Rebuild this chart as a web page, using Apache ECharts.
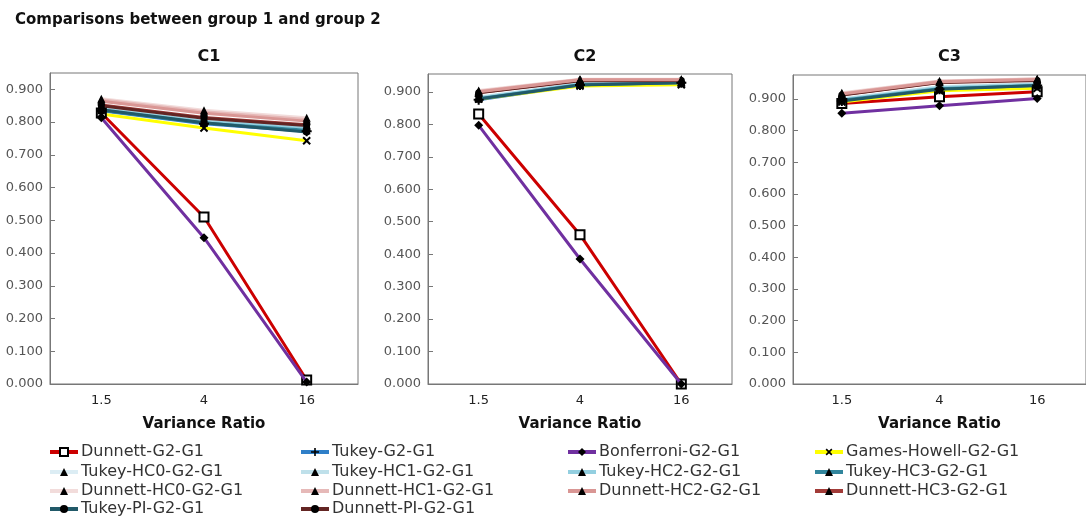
<!DOCTYPE html>
<html>
<head>
<meta charset="utf-8">
<script src="https://cdn.jsdelivr.net/npm/echarts@6/dist/echarts.min.js"></script>
<style>
  html, body { margin: 0; padding: 0; background: #fff; }
  #chart { width: 1086px; height: 522px; }
</style>
</head>
<body>
<div id="chart"></div>
<script>
// Variance ratio categories shared by all three panels
const varianceRatios = ['1.5', '4', '16'];
const panelNames = ['C1', 'C2', 'C3'];
const yTickValues = [0, 0.1, 0.2, 0.3, 0.4, 0.5, 0.6, 0.7, 0.8, 0.9];

// Each array holds one method's values for panels C1, C2, C3 (ratios 1.5, 4, 16)
const dunnettG2G1     = [[0.828, 0.510, 0.012], [0.832, 0.460, 0.000], [0.885, 0.906, 0.922]];
const tukeyG2G1       = [[0.835, 0.795, 0.772], [0.876, 0.921, 0.928], [0.893, 0.930, 0.942]];
const bonferroniG2G1  = [[0.813, 0.447, 0.006], [0.797, 0.385, 0.000], [0.854, 0.878, 0.901]];
const gamesHowellG2G1 = [[0.825, 0.782, 0.743], [0.878, 0.918, 0.922], [0.890, 0.925, 0.933]];
const tukeyHC0G2G1    = [[0.845, 0.806, 0.790], [0.884, 0.926, 0.931], [0.900, 0.938, 0.948]];
const tukeyHC1G2G1    = [[0.843, 0.804, 0.787], [0.883, 0.925, 0.930], [0.899, 0.937, 0.947]];
const tukeyHC2G2G1    = [[0.840, 0.802, 0.784], [0.881, 0.924, 0.929], [0.897, 0.935, 0.945]];
const tukeyHC3G2G1    = [[0.836, 0.797, 0.775], [0.879, 0.922, 0.928], [0.895, 0.932, 0.942]];
const dunnettHC0G2G1  = [[0.871, 0.836, 0.813], [0.904, 0.939, 0.939], [0.919, 0.956, 0.963]];
const dunnettHC1G2G1  = [[0.868, 0.832, 0.808], [0.902, 0.938, 0.938], [0.917, 0.955, 0.962]];
const dunnettHC2G2G1  = [[0.864, 0.827, 0.803], [0.900, 0.937, 0.937], [0.915, 0.954, 0.961]];
const dunnettHC3G2G1  = [[0.852, 0.814, 0.792], [0.898, 0.935, 0.936], [0.913, 0.952, 0.959]];
const tukeyPIG2G1     = [[0.838, 0.798, 0.770], [0.878, 0.921, 0.928], [0.893, 0.930, 0.942]];
const dunnettPIG2G1   = [[0.850, 0.812, 0.790], [0.897, 0.934, 0.935], [0.912, 0.951, 0.958]];

const PLUS = 'path://M4,0L6,0L6,4L10,4L10,6L6,6L6,10L4,10L4,6L0,6L0,4L4,4Z';

// Line colour, marker and stacking level for each method, in legend order
const methods = [
  { name: 'Dunnett-G2-G1',      data: dunnettG2G1,     color: '#cc0000', symbol: 'rect',     size: 9,  open: true, z: 2 },
  { name: 'Tukey-G2-G1',        data: tukeyG2G1,       color: '#2f7fc8', symbol: PLUS,       size: 10, z: 2 },
  { name: 'Bonferroni-G2-G1',   data: bonferroniG2G1,  color: '#7030a0', symbol: 'diamond',  size: 9,  z: 4 },
  { name: 'Games-Howell-G2-G1', data: gamesHowellG2G1, color: '#ffff00', symbol: PLUS,       size: 10, rotate: 45, z: 2 },
  { name: 'Tukey-HC0-G2-G1',    data: tukeyHC0G2G1,    color: '#dcedf4', symbol: 'triangle', size: 8,  z: 2 },
  { name: 'Tukey-HC1-G2-G1',    data: tukeyHC1G2G1,    color: '#bfe0ea', symbol: 'triangle', size: 8,  z: 2 },
  { name: 'Tukey-HC2-G2-G1',    data: tukeyHC2G2G1,    color: '#93cfe0', symbol: 'triangle', size: 8,  z: 2 },
  { name: 'Tukey-HC3-G2-G1',    data: tukeyHC3G2G1,    color: '#31859c', symbol: 'triangle', size: 8,  z: 2 },
  { name: 'Dunnett-HC0-G2-G1',  data: dunnettHC0G2G1,  color: '#f2dcdb', symbol: 'triangle', size: 8,  z: 3 },
  { name: 'Dunnett-HC1-G2-G1',  data: dunnettHC1G2G1,  color: '#e6b9b8', symbol: 'triangle', size: 8,  z: 3 },
  { name: 'Dunnett-HC2-G2-G1',  data: dunnettHC2G2G1,  color: '#d99694', symbol: 'triangle', size: 8,  z: 3 },
  { name: 'Dunnett-HC3-G2-G1',  data: dunnettHC3G2G1,  color: '#a23b38', symbol: 'triangle', size: 8,  z: 2 },
  { name: 'Tukey-PI-G2-G1',     data: tukeyPIG2G1,     color: '#215968', symbol: 'circle',   size: 7,  z: 2 },
  { name: 'Dunnett-PI-G2-G1',   data: dunnettPIG2G1,   color: '#632523', symbol: 'circle',   size: 7,  z: 2 }
];

const FONT = '"DejaVu Sans", "Liberation Sans", sans-serif';

// Plot rectangles of the three panels
const grids = [
  { left: 50,  top: 73, width: 308, height: 311 },
  { left: 428, top: 74, width: 304, height: 310 },
  { left: 793, top: 75, width: 303, height: 309 }
];
const yMax = [0.95, 0.955, 0.975];

// Legend grid: four columns, four rows
const legendCols = [48, 299, 566, 813];
const legendRows = [453, 473, 492, 510];

const option = {
  animation: false,
  backgroundColor: '#ffffff',
  textStyle: { fontFamily: FONT },
  title: [
    { text: 'Comparisons between group 1 and group 2', left: 10, top: 8,
      textStyle: { fontFamily: FONT, fontSize: 15, fontWeight: 'bold', color: '#111' } }
  ].concat(panelNames.map((p, i) => ({
    text: p, left: grids[i].left + grids[i].width / 2, top: 44, textAlign: 'center',
    textStyle: { fontFamily: FONT, fontSize: 16, fontWeight: 'bold', color: '#111' }
  }))),
  grid: grids.map(g => Object.assign({ show: true, borderColor: '#777', borderWidth: 1, containLabel: false }, g)),
  xAxis: grids.map((g, i) => ({
    type: 'category', gridIndex: i, data: varianceRatios, boundaryGap: true,
    name: 'Variance Ratio', nameLocation: 'middle', nameGap: 33,
    nameTextStyle: { fontFamily: FONT, fontSize: 15, fontWeight: 'bold', color: '#111' },
    axisLine: { lineStyle: { color: '#777' } },
    axisTick: { show: false },
    axisLabel: { fontFamily: FONT, fontSize: 13, color: '#222', margin: 10 },
    splitLine: { show: false }
  })),
  yAxis: grids.map((g, i) => ({
    type: 'value', gridIndex: i, min: 0, max: yMax[i], interval: 0.1,
    axisLine: { show: true, lineStyle: { color: '#777' } },
    axisTick: { show: true, inside: true, length: 5, lineStyle: { color: '#777' } },
    axisLabel: {
      fontFamily: FONT, fontSize: 13, color: '#555', margin: 7, showMaxLabel: false,
      formatter: v => (yTickValues.some(t => Math.abs(t - v) < 1e-9) ? v.toFixed(3) : '')
    },
    splitLine: { show: false }
  })),
  legend: methods.map((m, k) => ({
    left: legendCols[k % 4],
    top: legendRows[Math.floor(k / 4)] - 9,
    padding: 0,
    itemWidth: 28, itemHeight: 10,
    lineStyle: { width: 4 },
    textStyle: { fontFamily: FONT, fontSize: 16, color: '#333', padding: [0, 0, 0, -2] },
    data: [m.name]
  })),
  series: []
};

panelNames.forEach((p, i) => {
  methods.forEach(m => {
    option.series.push({
      name: m.name, type: 'line', xAxisIndex: i, yAxisIndex: i, z: m.z,
      data: m.data[i],
      symbol: m.symbol, symbolSize: m.size, symbolRotate: m.rotate || 0,
      showAllSymbol: true,
      lineStyle: { color: m.color, width: 3 },
      itemStyle: m.open
        ? { color: '#ffffff', borderColor: '#000', borderWidth: 2 }
        : { color: '#000', borderColor: '#000', borderWidth: 0 },
      color: m.color,
      emphasis: { disabled: true }
    });
  });
});

const chart = echarts.init(document.getElementById('chart'), null, { renderer: 'canvas' });
chart.setOption(option);
</script>
</body>
</html>
